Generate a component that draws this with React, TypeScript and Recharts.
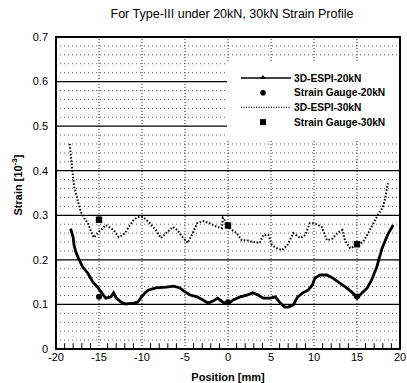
import React from 'react';
import {
  ComposedChart, Line, Scatter, XAxis, YAxis, ReferenceLine, ReferenceArea, Legend, Label,
} from 'recharts';

const espi20kN = [
  { x: -18.3, y: 0.27 }, { x: -18.0, y: 0.25 }, { x: -17.9, y: 0.233 }, { x: -17.7, y: 0.218 },
  { x: -17.4, y: 0.204 }, { x: -16.9, y: 0.184 }, { x: -16.3, y: 0.17 }, { x: -15.7, y: 0.15 },
  { x: -15.1, y: 0.137 }, { x: -14.5, y: 0.121 }, { x: -14.2, y: 0.114 }, { x: -13.6, y: 0.117 },
  { x: -13.3, y: 0.126 }, { x: -13.0, y: 0.114 }, { x: -12.4, y: 0.105 }, { x: -11.9, y: 0.101 },
  { x: -11.0, y: 0.103 }, { x: -10.5, y: 0.105 }, { x: -9.9, y: 0.121 }, { x: -9.3, y: 0.132 },
  { x: -8.4, y: 0.137 }, { x: -7.2, y: 0.139 }, { x: -6.3, y: 0.141 }, { x: -5.6, y: 0.137 },
  { x: -5.0, y: 0.128 }, { x: -4.4, y: 0.121 }, { x: -3.6, y: 0.117 }, { x: -2.9, y: 0.11 },
  { x: -2.3, y: 0.103 }, { x: -1.7, y: 0.108 }, { x: -1.2, y: 0.114 }, { x: -0.6, y: 0.105 },
  { x: 0.0, y: 0.101 }, { x: 0.6, y: 0.11 }, { x: 1.4, y: 0.117 }, { x: 2.2, y: 0.121 },
  { x: 2.9, y: 0.126 }, { x: 3.5, y: 0.121 }, { x: 4.1, y: 0.114 }, { x: 4.9, y: 0.114 },
  { x: 5.5, y: 0.117 }, { x: 6.0, y: 0.105 }, { x: 6.6, y: 0.094 }, { x: 7.0, y: 0.094 },
  { x: 7.6, y: 0.099 }, { x: 8.1, y: 0.117 }, { x: 8.7, y: 0.126 }, { x: 9.3, y: 0.132 },
  { x: 9.8, y: 0.143 }, { x: 10.1, y: 0.159 }, { x: 10.7, y: 0.166 }, { x: 11.5, y: 0.166 },
  { x: 12.2, y: 0.159 }, { x: 13.0, y: 0.148 }, { x: 13.8, y: 0.137 }, { x: 14.5, y: 0.126 },
  { x: 15.0, y: 0.114 }, { x: 15.6, y: 0.126 }, { x: 16.2, y: 0.137 }, { x: 16.7, y: 0.155 },
  { x: 17.3, y: 0.184 }, { x: 17.9, y: 0.225 }, { x: 18.6, y: 0.258 }, { x: 19.2, y: 0.278 },
];

const espi30kN = [
  { x: -18.4, y: 0.46 }, { x: -18.2, y: 0.42 }, { x: -17.9, y: 0.365 }, { x: -17.5, y: 0.335 },
  { x: -17.1, y: 0.307 }, { x: -16.6, y: 0.29 }, { x: -16.3, y: 0.283 }, { x: -15.9, y: 0.262 },
  { x: -15.6, y: 0.25 }, { x: -15.1, y: 0.262 }, { x: -14.6, y: 0.27 }, { x: -14.2, y: 0.278 },
  { x: -13.7, y: 0.272 }, { x: -13.3, y: 0.267 }, { x: -12.7, y: 0.251 }, { x: -12.3, y: 0.255 },
  { x: -11.9, y: 0.262 }, { x: -11.4, y: 0.278 }, { x: -11.0, y: 0.289 }, { x: -10.5, y: 0.296 },
  { x: -9.9, y: 0.296 }, { x: -9.2, y: 0.285 }, { x: -8.8, y: 0.275 }, { x: -8.4, y: 0.267 },
  { x: -7.8, y: 0.249 }, { x: -7.2, y: 0.26 }, { x: -6.4, y: 0.274 }, { x: -5.9, y: 0.267 },
  { x: -5.2, y: 0.249 }, { x: -4.7, y: 0.238 }, { x: -4.1, y: 0.26 }, { x: -3.6, y: 0.282 },
  { x: -2.9, y: 0.287 }, { x: -2.1, y: 0.282 }, { x: -1.3, y: 0.274 }, { x: -0.7, y: 0.271 },
  { x: -0.6, y: 0.294 }, { x: -0.1, y: 0.282 }, { x: 0.2, y: 0.271 }, { x: 0.6, y: 0.265 },
  { x: 1.0, y: 0.26 }, { x: 1.6, y: 0.244 }, { x: 2.2, y: 0.244 }, { x: 2.9, y: 0.24 },
  { x: 3.7, y: 0.238 }, { x: 4.1, y: 0.256 }, { x: 4.7, y: 0.256 }, { x: 5.1, y: 0.233 },
  { x: 5.7, y: 0.226 }, { x: 6.3, y: 0.222 }, { x: 6.9, y: 0.233 }, { x: 7.6, y: 0.26 },
  { x: 8.4, y: 0.249 }, { x: 9.0, y: 0.256 }, { x: 9.5, y: 0.282 }, { x: 10.1, y: 0.282 },
  { x: 10.9, y: 0.274 }, { x: 11.5, y: 0.244 }, { x: 12.1, y: 0.247 }, { x: 12.8, y: 0.262 },
  { x: 13.3, y: 0.267 }, { x: 13.6, y: 0.244 }, { x: 14.2, y: 0.226 }, { x: 15.0, y: 0.233 },
  { x: 15.7, y: 0.24 }, { x: 16.3, y: 0.26 }, { x: 16.9, y: 0.282 }, { x: 17.4, y: 0.3 },
  { x: 18.0, y: 0.318 }, { x: 18.3, y: 0.34 }, { x: 18.5, y: 0.363 }, { x: 18.6, y: 0.372 },
];

const gauge20kN = [{ x: -15, y: 0.117 }, { x: 0, y: 0.105 }, { x: 15, y: 0.118 }];
const gauge30kN = [{ x: -15, y: 0.29 }, { x: 0, y: 0.277 }, { x: 15, y: 0.235 }];

const xTicks = [-20, -15, -10, -5, 0, 5, 10, 15, 20];
const yTicks = [0, 0.1, 0.2, 0.3, 0.4, 0.5, 0.6, 0.7];
const xGrid = [-15, -10, -5, 0, 5, 10, 15];
const yMajorGrid = [0.1, 0.2, 0.3, 0.4, 0.5, 0.6];
const yMinorGrid = [
  0.02, 0.04, 0.06, 0.08, 0.12, 0.14, 0.16, 0.18, 0.22, 0.24, 0.26, 0.28,
  0.32, 0.34, 0.36, 0.38, 0.42, 0.44, 0.46, 0.48, 0.52, 0.54, 0.56, 0.58,
  0.62, 0.64, 0.66, 0.68,
];
const xMinorTicks = [
  -19, -18, -17, -16, -14, -13, -12, -11, -9, -8, -7, -6, -4, -3, -2, -1,
  1, 2, 3, 4, 6, 7, 8, 9, 11, 12, 13, 14, 16, 17, 18, 19,
];

const legendNames = ['3D-ESPI-20kN', 'Strain Gauge-20kN', '3D-ESPI-30kN', 'Strain Gauge-30kN'];

const FONT = '"Liberation Sans", Arial, Helvetica, sans-serif';

const LegendBox = () => (
  <svg width={172} height={78} style={{ display: 'block' }}>
    {legendNames.map((name, i) => {
      const cy = 17 + i * 14.7;
      return (
        <g key={name}>
          {i === 0 && (
            <>
              <line x1={14} x2={64} y1={cy} y2={cy} stroke="#000" strokeWidth={1.6} />
              <path d={`M${36},${cy - 3} L${39},${cy + 1} L${33},${cy + 1} Z`} fill="#000" />
            </>
          )}
          {i === 1 && <circle cx={36} cy={cy} r={2.8} fill="#000" />}
          {i === 2 && (
            <line x1={14} x2={64} y1={cy} y2={cy} stroke="#000" strokeWidth={1.3} strokeDasharray="1 1.5" />
          )}
          {i === 3 && <rect x={33} y={cy - 3} width={6} height={6} fill="#000" />}
          <text x={67} y={cy + 3.6} fontFamily={FONT} fontWeight="bold" fontSize={10.2} fill="#000">
            {name}
          </text>
        </g>
      );
    })}
  </svg>
);

const YLabel = (props: any) => {
  const vb = props.viewBox || {};
  const cx = 18;
  const cy = (vb.y || 0) + (vb.height || 0) / 2 - 8;
  return (
    <text
      x={cx}
      y={cy}
      transform={`rotate(-90 ${cx} ${cy})`}
      textAnchor="middle"
      dominantBaseline="central"
      fontFamily={FONT}
      fontWeight="bold"
      fontSize={11}
      fill="#000"
    >
      Strain [10<tspan dy={-4} fontSize={8}>-3</tspan><tspan dy={4}>]</tspan>
    </text>
  );
};

const CircleDot = (props: any) => <circle cx={props.cx} cy={props.cy} r={3} fill="#000" />;
const SquareDot = (props: any) => (
  <rect x={props.cx - 3.2} y={props.cy - 3.2} width={6.4} height={6.4} fill="#000" />
);

export default function App() {
  return (
    <div style={{ position: 'absolute', left: 0, top: 0, width: 407, height: 383, background: '#fff' }}>
      <div
        style={{
          position: 'absolute', left: 60, top: 7, width: 344, textAlign: 'center',
          fontFamily: FONT, fontSize: 12.5, color: '#000',
        }}
      >
        For Type-III under 20kN, 30kN Strain Profile
      </div>
      <ComposedChart
        width={407}
        height={383}
        margin={{ top: 37, right: 7, left: 0, bottom: 0 }}
        style={{ fontFamily: FONT }}
      >
        {yMinorGrid.map((v) => (
          <ReferenceLine key={`ym${v}`} y={v} stroke="#333" strokeWidth={0.8} strokeDasharray="1 3" />
        ))}
        {xGrid.map((v) => (
          <ReferenceLine key={`xg${v}`} x={v} stroke="#222" strokeWidth={1} strokeDasharray="1 2" />
        ))}
        {yMajorGrid.map((v) => (
          <ReferenceLine key={`yM${v}`} y={v} stroke="#000" strokeWidth={1.3} />
        ))}
        {xMinorTicks.map((v) => (
          <ReferenceLine
            key={`xt${v}`}
            segment={[{ x: v, y: 0 }, { x: v, y: 0.013 }]}
            stroke="#000"
            strokeWidth={1}
          />
        ))}
        <ReferenceArea x1={-20} x2={20} y1={0} y2={0.7} fill="none" stroke="#000" strokeWidth={2} />
        <XAxis
          type="number"
          dataKey="x"
          domain={[-20, 20]}
          ticks={xTicks}
          allowDataOverflow
          axisLine={false}
          tickLine={false}
          tickSize={0}
          tickMargin={4}
          height={34}
          tick={{ fill: '#000', fontSize: 11, fontFamily: FONT }}
        >
          <Label
            value="Position [mm]"
            position="insideBottom"
            offset={2}
            style={{ fontWeight: 'bold', fontSize: 11, fill: '#000', fontFamily: FONT }}
          />
        </XAxis>
        <YAxis
          type="number"
          dataKey="y"
          domain={[0, 0.7]}
          ticks={yTicks}
          allowDataOverflow
          axisLine={false}
          tickLine={false}
          tickSize={0}
          tickMargin={8}
          width={56}
          tick={{ fill: '#000', fontSize: 11, fontFamily: FONT }}
        >
          <Label content={<YLabel />} />
        </YAxis>
        <Line
          name="3D-ESPI-20kN"
          data={espi20kN}
          dataKey="y"
          type="linear"
          stroke="#000"
          strokeWidth={2.8}
          dot={false}
          isAnimationActive={false}
        />
        <Line
          name="3D-ESPI-30kN"
          data={espi30kN}
          dataKey="y"
          type="linear"
          stroke="#000"
          strokeWidth={2}
          strokeDasharray="1.5 1.8"
          dot={false}
          isAnimationActive={false}
        />
        <Scatter
          name="Strain Gauge-20kN"
          data={gauge20kN}
          dataKey="y"
          fill="#000"
          shape={<CircleDot />}
          isAnimationActive={false}
        />
        <Scatter
          name="Strain Gauge-30kN"
          data={gauge30kN}
          dataKey="y"
          fill="#000"
          shape={<SquareDot />}
          isAnimationActive={false}
        />
        <Legend
          layout="horizontal"
          verticalAlign="middle"
          align="center"
          content={<LegendBox />}
          wrapperStyle={{ position: 'absolute', left: 227, top: 61, width: 172, height: 78, background: '#fff' }}
        />
      </ComposedChart>
    </div>
  );
}
